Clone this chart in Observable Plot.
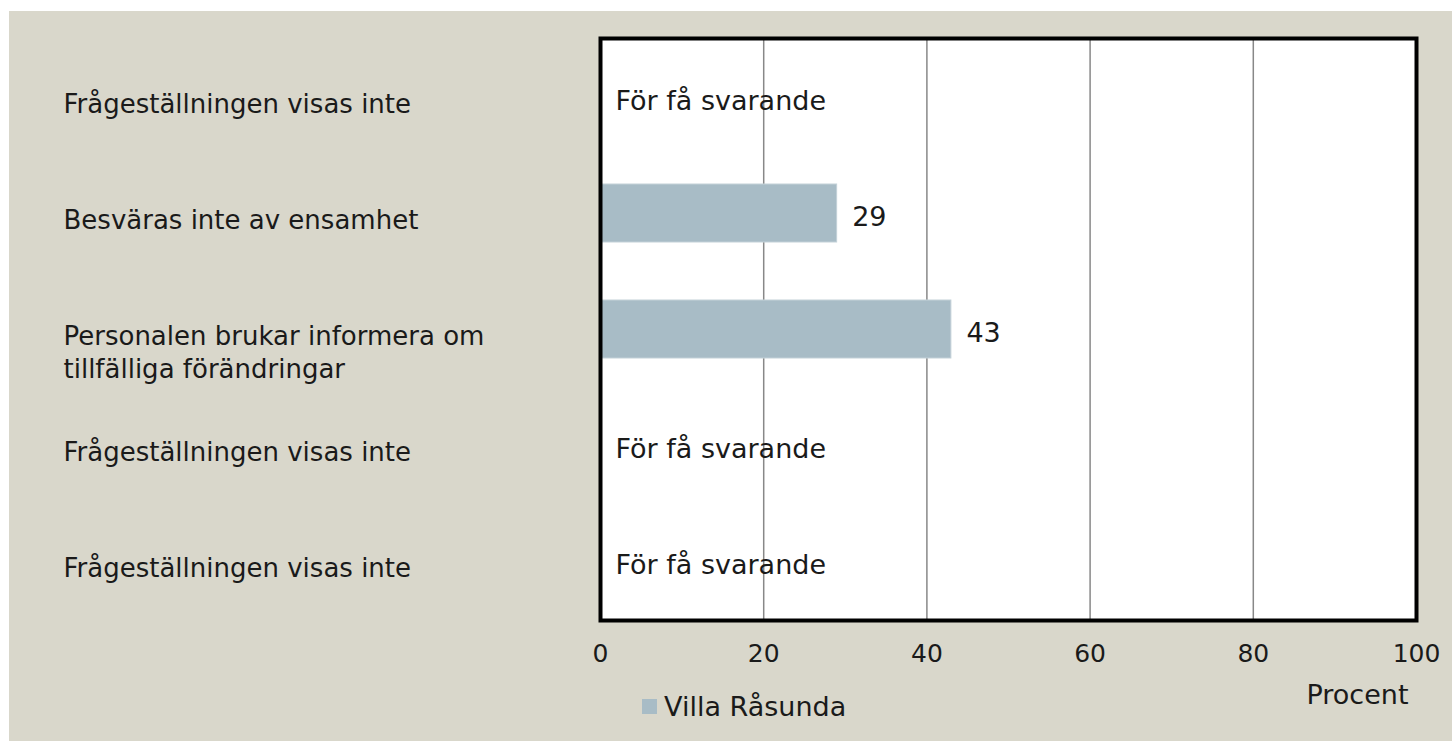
<!DOCTYPE html>
<html><head><meta charset="utf-8">
<script src="https://cdn.jsdelivr.net/npm/d3@7"></script>
<script src="https://cdn.jsdelivr.net/npm/@observablehq/plot@0.6"></script>
<style>
body{margin:0;background:#fff;}
#wrap{position:absolute;left:9px;top:11px;width:1443px;height:730px;background:#d9d7cb;font-family:"DejaVu Sans",sans-serif;}
#chart{position:absolute;left:0;top:0;}
#legend{position:absolute;left:633px;top:680px;display:flex;align-items:center;font-size:27px;color:#1a1a1a;}
#legend .sw{width:15px;height:15px;background:#a8bcc6;margin-right:7px;display:inline-block}
</style></head><body>
<div id="wrap"><div id="chart"></div><div id="legend"><span class="sw"></span><span id="lg"></span></div></div>
<script>
const categories = [
  "Frågeställningen visas inte",
  "Besväras inte av ensamhet",
  "Personalen brukar informera om\ntillfälliga förändringar",
  "Frågeställningen visas inte",
  "Frågeställningen visas inte"
];
const values = [null, 29, 43, null, null];
const xTicks = [0, 20, 40, 60, 80, 100];
const gridTicks = [20, 40, 60, 80];
const seriesName = "Villa Råsunda";
const noDataLabel = "För få svarande";
const axisTitle = "Procent";

const data = categories.map((c, i) => ({id: i, category: c, value: values[i]}));
document.getElementById("lg").textContent = seriesName;

const chart = Plot.plot({
  width: 1443, height: 730,
  marginLeft: 591, marginRight: 36, marginTop: 27, marginBottom: 121,
  style: {background: "transparent", fontFamily: "DejaVu Sans, sans-serif", fontSize: "26px", color: "#1a1a1a"},
  x: {domain: [0, 100]},
  y: {type: "band", domain: data.map(d => d.id), paddingInner: 0.5, paddingOuter: 0.25, axis: null},
  marks: [
    Plot.frame({fill: "white"}),
    Plot.ruleX(gridTicks, {x: d => d, stroke: "#888888", strokeWidth: 1.5}),
    Plot.barX(data.filter(d => d.value != null), {x: "value", y: "id", fill: "#a8bcc6", stroke: "#c3d1d8", strokeWidth: 1}),
    Plot.text(data, {x: d => d.value ?? 0, y: "id", text: d => d.value ?? noDataLabel, textAnchor: "start", dx: 15, dy: 4, fontSize: 27, fill: "#1a1a1a"}),
    Plot.text(data, {y: "id", text: "category", frameAnchor: "left", textAnchor: "start", dx: -537, lineAnchor: "top", dy: -9, lineHeight: 1.3, fontSize: 26, fill: "#1a1a1a"}),
    Plot.axisX({ticks: xTicks, tickSize: 0, tickPadding: 24, fontSize: 25, label: null, fill: "#1a1a1a"}),
    Plot.frame({stroke: "black", strokeWidth: 4}),
    Plot.text([axisTitle], {text: d => d, frameAnchor: "bottom-right", textAnchor: "end", dy: 83, dx: -8, fontSize: 27, fill: "#1a1a1a"})
  ]
});
document.getElementById("chart").appendChild(chart);
</script>
</body></html>
